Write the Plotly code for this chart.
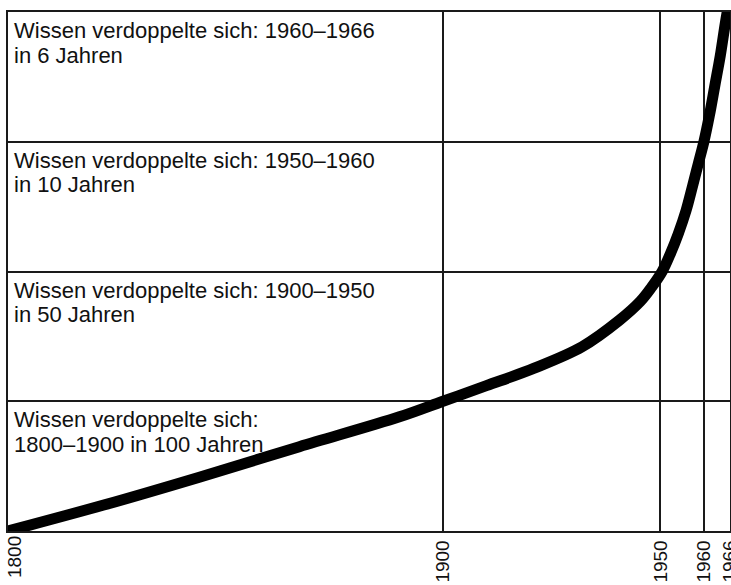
import plotly.graph_objects as go

# Curve: knowledge level in "doublings" (0 = 1800 level)
years = [1800, 1822, 1844, 1867, 1890, 1900, 1910, 1921, 1932, 1940.6,
         1945.4, 1948, 1950.4, 1952.2, 1954.1, 1955.9, 1957.4, 1958.7, 1960,
         1961.25, 1962.5, 1963.75, 1965, 1966]
levels = [0.0, 0.20, 0.415, 0.65, 0.88, 1.0, 1.12, 1.255, 1.42, 1.625,
          1.77, 1.88, 2.0, 2.13, 2.29, 2.47, 2.66, 2.83, 3.0,
          3.2, 3.43, 3.66, 3.93, 4.12]

tick_years = [1800, 1900, 1950, 1960, 1966]
tick_labels = ["1800", "1900", "1950", "1960", "1966"]
level_grid = [0, 1, 2, 3, 4]

panel_top_levels = [4, 3, 2, 1]
panel_line1 = ["Wissen verdoppelte sich: 1960–1966",
               "Wissen verdoppelte sich: 1950–1960",
               "Wissen verdoppelte sich: 1900–1950",
               "Wissen verdoppelte sich:"]
panel_line2 = ["in 6 Jahren",
               "in 10 Jahren",
               "in 50 Jahren",
               "1800–1900 in 100 Jahren"]

FONT = "Liberation Sans, Arial, Helvetica, sans-serif"
GRID = "#1a1a1a"

fig = go.Figure()
fig.add_trace(go.Scatter(
    x=years, y=levels, mode="lines",
    line=dict(color="black", width=11, shape="spline", smoothing=1.0),
    hoverinfo="skip", showlegend=False,
))

annotations = []
for top, l1, l2 in zip(panel_top_levels, panel_line1, panel_line2):
    for i, txt in enumerate([l1, l2]):
        annotations.append(dict(
            x=0, xref="paper", y=top, yref="y",
            xanchor="left", yanchor="middle",
            xshift=4, yshift=-(18.5 + 24.5 * i),
            text=txt, showarrow=False,
            font=dict(family=FONT, size=22, color="#111"),
        ))

tickfont = dict(family=FONT, size=19, color="#111")

fig.update_layout(
    width=731, height=585,
    margin=dict(l=8, r=1, t=12, b=54, autoexpand=False),
    paper_bgcolor="white", plot_bgcolor="white",
    annotations=annotations,
    showlegend=False,
    xaxis=dict(
        range=[1800, 1966], tickvals=tick_years[1:], ticktext=tick_labels[1:],
        tickangle=-90, showgrid=True, gridcolor=GRID, gridwidth=1.5,
        showline=True, linecolor=GRID, linewidth=1.5, mirror=True,
        zeroline=False, ticks="", automargin=False,
        ticklabeloverflow="allow", tickfont=tickfont, fixedrange=True,
    ),
    # label-only axis for the first year, nudged inside the page like the original
    xaxis2=dict(
        overlaying="x", matches="x", range=[1800, 1966],
        tickvals=tick_years[:1], ticktext=tick_labels[:1],
        tickangle=-90, showgrid=False, showline=False, zeroline=False,
        ticks="", automargin=False, ticklabeloverflow="allow",
        ticklabelshift=7, tickfont=tickfont, fixedrange=True, side="bottom",
    ),
    yaxis=dict(
        range=[0, 4], tickvals=level_grid, showticklabels=False,
        showgrid=True, gridcolor=GRID, gridwidth=1.5,
        showline=True, linecolor=GRID, linewidth=1.5, mirror=True,
        zeroline=False, ticks="", automargin=False, fixedrange=True,
    ),
)
# invisible trace to activate the label-only axis
fig.add_trace(go.Scatter(x=[1800], y=[0], xaxis="x2", mode="markers",
                         marker=dict(opacity=0), hoverinfo="skip",
                         showlegend=False))

fig.write_html(
    "out.html",
    config={"displayModeBar": False},
    post_script="document.body.style.margin='0';document.body.style.overflow='hidden';",
)
